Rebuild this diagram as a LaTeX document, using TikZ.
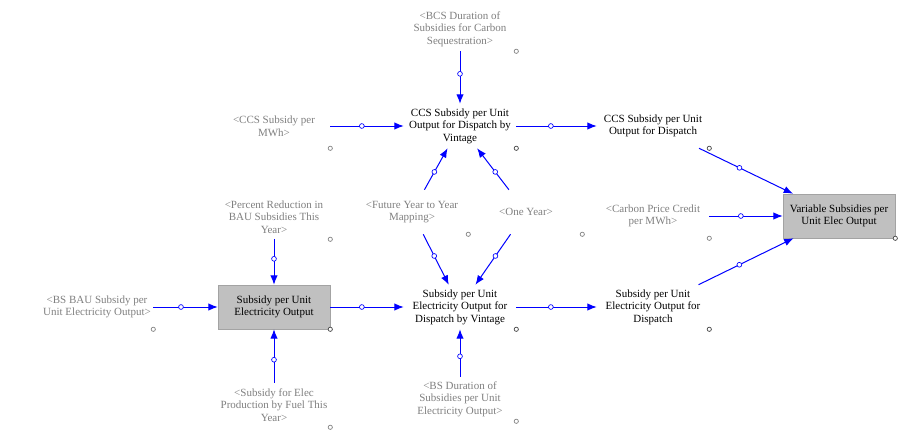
\documentclass[tikz,border=0pt]{standalone}
\usepackage{fontspec}
\setmainfont{Liberation Serif}
\usepackage{tikz}
\usetikzlibrary{arrows.meta}
\definecolor{shadowgray}{RGB}{128,128,128}
\definecolor{boxgray}{RGB}{192,192,192}
\definecolor{linkblue}{RGB}{0,0,255}
\tikzstyle{every node}=[font=\fontsize{8.25}{9.4}\selectfont]
\tikzstyle{var}=[minimum width=84pt,minimum height=33pt,inner sep=0pt,align=center]
\tikzstyle{shadow}=[var,text=shadowgray]
\tikzstyle{boxvar}=[var,fill=boxgray,draw=boxgray!85!black,line width=0.4pt]
\tikzstyle{link}=[draw=linkblue,line width=0.75pt,-{Latex[length=7pt,width=5.5pt]}]
\tikzstyle{dot}=[pos=0.43,circle,draw=linkblue,fill=white,line width=0.5pt,inner sep=0pt,minimum size=3.6pt]

\begin{document}
\begin{tikzpicture}[x=0.75pt,y=-0.75pt]
\useasboundingbox[fill=white] (0,0) rectangle (913,435);

\node[shadow] (bcs) at (460,29) {<BCS Duration of\\Subsidies for Carbon\\Sequestration>};
\node[shadow] (ccsmwh) at (274,126) {<CCS Subsidy per\\MWh>};
\node[var] (ccsvint) at (460,126) {CCS Subsidy per Unit\\Output for Dispatch by\\Vintage};
\node[var] (ccsdisp) at (653,126) {CCS Subsidy per Unit\\Output for Dispatch};
\node[shadow] (future) at (412,212) {<Future Year to Year\\Mapping>};
\node[shadow] (oneyear) at (526,212) {<One Year>};
\node[shadow] (carbon) at (653,216) {<Carbon Price Credit\\per MWh>};
\node[boxvar] (varsub) at (839,216) {Variable Subsidies per\\Unit Elec Output};
\node[shadow] (percent) at (274,217) {<Percent Reduction in\\BAU Subsidies This\\Year>};
\node[shadow] (bsbau) at (97,307) {<BS BAU Subsidy per\\Unit Electricity Output>};
\node[boxvar] (subelec) at (274,307) {Subsidy per Unit\\Electricity Output};
\node[var] (elecvint) at (460,307) {Subsidy per Unit\\Electricity Output for\\Dispatch by Vintage};
\node[var] (elecdisp) at (653,307) {Subsidy per Unit\\Electricity Output for\\Dispatch};
\node[shadow] (bsdur) at (460,399) {<BS Duration of\\Subsidies per Unit\\Electricity Output>};
\node[shadow] (subfuel) at (274,405) {<Subsidy for Elec\\Production by Fuel This\\Year>};

% corner handles
\foreach \n in {ccsvint,ccsdisp,varsub,subelec,elecvint,elecdisp}
  \draw[black!75,line width=0.5pt,fill=white] (\n.south east) circle (1.6pt);
\foreach \n in {bcs,ccsmwh,future,oneyear,carbon,percent,bsbau,bsdur,subfuel}
  \draw[shadowgray,line width=0.5pt,fill=white] (\n.south east) circle (1.6pt);

% links
\draw[link] (bcs) -- node[dot] {} (ccsvint);
\draw[link] (ccsmwh) -- node[dot] {} (ccsvint);
\draw[link] (future) -- node[dot] {} (ccsvint);
\draw[link] (oneyear) -- node[dot] {} (ccsvint);
\draw[link] (ccsvint) -- node[dot] {} (ccsdisp);
\draw[link] (ccsdisp) -- node[dot] {} (varsub);
\draw[link] (carbon) -- node[dot] {} (varsub);
\draw[link] (elecdisp) -- node[dot] {} (varsub);
\draw[link] (percent) -- node[dot] {} (subelec);
\draw[link] (bsbau) -- node[dot] {} (subelec);
\draw[link] (subfuel) -- node[dot] {} (subelec);
\draw[link] (subelec) -- node[dot] {} (elecvint);
\draw[link] (future) -- node[dot] {} (elecvint);
\draw[link] (oneyear) -- node[dot] {} (elecvint);
\draw[link] (bsdur) -- node[dot] {} (elecvint);
\draw[link] (elecvint) -- node[dot] {} (elecdisp);
\end{tikzpicture}
\end{document}
